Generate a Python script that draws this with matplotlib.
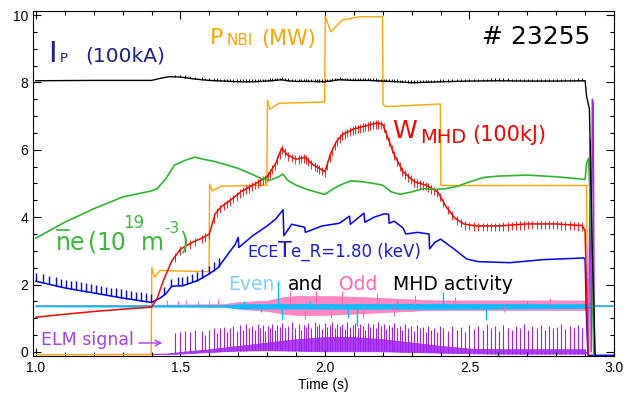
import numpy as np
import matplotlib.pyplot as plt
from matplotlib.lines import Line2D
from matplotlib.ticker import MultipleLocator

plt.rcParams['font.family'] = ['Liberation Sans', 'DejaVu Sans']

# Shot 23255 traces (time in s)

# plasma current Ip (100kA)
IP_T = [1.0, 1.2, 1.40, 1.43, 1.46, 1.50, 1.55, 1.60, 1.65, 1.70, 1.75, 1.80, 1.85, 1.87, 1.90,
        1.95, 2.00, 2.05, 2.10, 2.15, 2.20, 2.25, 2.30, 2.40, 2.50, 2.60, 2.70, 2.80, 2.90, 2.905,
        2.915, 2.925, 2.935]
IP_V = [8.05, 8.06, 8.06, 8.12, 8.17, 8.16, 8.10, 8.06, 8.04, 8.02, 8.02, 8.04, 8.08, 8.05, 8.03,
        8.03, 8.02, 8.08, 8.06, 8.06, 8.04, 8.02, 7.99, 8.02, 8.04, 8.05, 8.04, 8.04, 8.05, 7.6,
        7.2, 3.0, -0.1]
IP_RIPPLE = 0.07   # small bumps on Ip at each ELM

# NBI power (MW)
NBI_T = [1.0, 1.399, 1.401, 1.41, 1.43, 1.599, 1.601, 1.61, 1.64, 1.799, 1.801, 1.81, 1.84,
         1.999, 2.001, 2.02, 2.06, 2.12, 2.199, 2.201, 2.21, 2.399, 2.401, 2.905, 2.91]
NBI_V = [-0.08, -0.08, 2.5, 2.22, 2.42, 2.38, 4.98, 4.78, 4.92, 4.95, 7.47, 7.2, 7.38,
         7.42, 9.97, 9.5, 9.85, 9.95, 9.95, 7.35, 7.28, 7.36, 4.94, 4.94, -0.1]

# line averaged density (1e19 m^-3)
NE_T = [1.0, 1.1, 1.2, 1.3, 1.4, 1.42, 1.45, 1.48, 1.52, 1.55, 1.58, 1.62, 1.66, 1.70, 1.74,
        1.78, 1.81, 1.84, 1.855, 1.87, 1.90, 1.94, 1.98, 2.00, 2.03, 2.06, 2.09, 2.13, 2.17, 2.20,
        2.23, 2.26, 2.30, 2.34, 2.38, 2.42, 2.46, 2.50, 2.55, 2.60, 2.70, 2.80, 2.90, 2.905, 2.912,
        2.92, 2.93]
NE_V = [3.38, 3.85, 4.25, 4.6, 4.78, 4.85, 5.15, 5.55, 5.7, 5.78, 5.72, 5.65, 5.55, 5.45, 5.3,
        5.15, 5.1, 5.2, 5.28, 5.1, 4.95, 4.82, 4.72, 4.68, 4.85, 4.98, 5.08, 5.05, 5.0, 4.95,
        4.75, 4.68, 4.75, 4.85, 4.82, 4.85, 4.92, 5.05, 5.18, 5.22, 5.25, 5.2, 5.12, 5.6, 5.75,
        4.0, -0.1]

# stored energy WMHD (100kJ)
W_T = [1.0, 1.1, 1.2, 1.3, 1.4, 1.42, 1.44, 1.47, 1.50, 1.54, 1.58, 1.60, 1.62, 1.64, 1.68,
       1.71, 1.74, 1.77, 1.80, 1.83, 1.85, 1.87, 1.90, 1.93, 1.96, 1.99, 2.0, 2.02, 2.04, 2.06,
       2.10, 2.15, 2.18, 2.20, 2.22, 2.24, 2.27, 2.31, 2.35, 2.39, 2.42, 2.45, 2.48, 2.52, 2.6,
       2.7, 2.8, 2.89, 2.9, 2.91]
W_V = [1.03, 1.12, 1.2, 1.27, 1.33, 1.6, 2.1, 2.7, 3.05, 3.25, 3.4, 3.5, 4.1, 4.3, 4.55,
       4.76, 4.9, 5.05, 5.2, 5.6, 6.05, 5.85, 5.72, 5.78, 5.55, 5.4, 5.35, 5.9, 6.25, 6.45,
       6.62, 6.73, 6.8, 6.75, 6.3, 5.85, 5.35, 5.05, 4.95, 4.75, 4.3, 3.97, 3.8, 3.74, 3.74,
       3.8, 3.8, 3.75, 3.6, -0.1]
W_ELM_DIP = 0.16   # WMHD drop at each ELM
W_ELM_RISE = 0.1

# ECE Te at R=1.80 (keV)
TE_T = [1.0, 1.1, 1.2, 1.3, 1.4, 1.43, 1.45, 1.47, 1.51, 1.56, 1.60, 1.63, 1.66, 1.69, 1.70,
        1.702, 1.75, 1.80, 1.83, 1.855, 1.858, 1.885, 1.93, 1.932, 1.99, 2.05, 2.085, 2.088, 2.135, 2.138,
        2.17, 2.205, 2.22, 2.222, 2.24, 2.27, 2.28, 2.32, 2.36, 2.362, 2.38, 2.40, 2.446, 2.49, 2.53,
        2.64, 2.755, 2.895, 2.90, 2.905, 2.91, 3.0]
TE_V = [2.1, 1.9, 1.75, 1.6, 1.47, 1.6, 1.73, 1.95, 1.97, 2.12, 2.32, 2.5, 2.85, 3.2, 3.4,
        3.1, 3.45, 3.74, 3.95, 4.22, 3.45, 3.79, 3.7, 3.55, 3.74, 3.82, 4.03, 3.79, 4.12, 3.85,
        4.0, 4.1, 4.09, 3.82, 3.88, 3.68, 3.5, 3.55, 3.5, 3.06, 3.25, 3.35, 3.06, 2.76, 2.68,
        2.65, 2.74, 2.79, 2.75, 1.0, -0.1, -0.1]
# sawtooth peaks on Te
TE_SAW_T = [1.001, 1.024, 1.047, 1.070, 1.087, 1.104, 1.122, 1.139, 1.156, 1.173, 1.190, 1.208,
            1.225, 1.242, 1.259, 1.276, 1.294, 1.311, 1.328, 1.345, 1.362, 1.380, 1.397, 1.444,
            1.467, 1.490, 1.507, 1.524, 1.541, 1.558, 1.576, 1.599, 1.616, 1.633]
TE_SAW_UP = 0.25

# even MHD (n even) band
EVEN_T = [1.0, 1.65, 1.70, 2.40, 2.9, 2.935, 3.0]
EVEN_V = [1.36, 1.36, 1.35, 1.35, 1.36, 1.36, 1.36]
EVEN_LO = [1.35, 1.34, 1.29, 1.28, 1.30, 1.36, 1.36]
EVEN_HI = [1.37, 1.38, 1.42, 1.43, 1.42, 1.36, 1.36]
EVEN_SPK_T = [1.72, 1.78, 1.836, 1.853, 1.95, 2.08, 2.11, 2.25, 2.41, 2.556, 2.70, 2.905, 2.907]
EVEN_SPK_V = [1.52, 1.2, 2.1, 0.94, 1.52, 1.0, 0.76, 1.55, 1.77, 0.94, 1.5, 2.2, 0.85]

# odd MHD band (dense core + largest excursions)
ODD_T = [1.0, 1.4, 1.65, 1.7, 1.8, 1.85, 1.9, 2.0, 2.1, 2.2, 2.3, 2.35, 2.4, 2.9, 2.935, 3.0]
ODD_HI = [1.39, 1.40, 1.42, 1.48, 1.52, 1.62, 1.66, 1.66, 1.64, 1.6, 1.56, 1.54, 1.53, 1.53, 1.38, 1.38]
ODD_LO = [1.38, 1.37, 1.35, 1.28, 1.22, 1.14, 1.10, 1.10, 1.14, 1.18, 1.22, 1.25, 1.25, 1.25, 1.38, 1.38]
ODD_SPK_T = [1.455, 1.49, 1.52, 1.56, 1.60, 1.63, 1.88, 1.93, 1.97, 2.02, 2.06, 2.13, 2.18, 2.24,
             2.31, 2.45, 2.62, 2.78, 2.91]
ODD_SPK_V = [1.55, 1.52, 1.55, 1.5, 1.55, 1.58, 1.8, 0.98, 1.82, 1.0, 1.8, 1.02, 1.76, 1.08,
             1.68, 1.62, 1.2, 1.6, 1.95]

# ELM signal: background band + individual ELM spikes
ELM_BT = [1.0, 1.45, 1.5, 1.6, 1.7, 1.8, 1.9, 2.0, 2.1, 2.2, 2.3, 2.4, 2.5, 2.6, 2.9]
ELM_LO = [-0.06, -0.06, -0.05, 0.0, 0.04, 0.05, 0.04, 0.02, 0.02, 0.02, 0.0, -0.02, -0.04, -0.05, -0.05]
ELM_HI = [-0.06, -0.05, 0.0, 0.08, 0.18, 0.28, 0.38, 0.44, 0.44, 0.38, 0.28, 0.18, 0.1, 0.08, 0.08]
ELM_T = [
    1.482, 1.499, 1.516, 1.534, 1.551, 1.575, 1.585, 1.600, 1.616, 1.627,
    1.637, 1.650, 1.660, 1.672, 1.683, 1.695, 1.706, 1.716, 1.728, 1.737,
    1.748, 1.757, 1.768, 1.775, 1.786, 1.792, 1.802, 1.809, 1.818, 1.826,
    1.835, 1.843, 1.852, 1.861, 1.872, 1.885, 1.895, 1.909, 1.918, 1.926,
    1.935, 1.943, 1.953, 1.964, 1.972, 1.981, 1.990, 2.000, 2.008, 2.016,
    2.025, 2.034, 2.043, 2.052, 2.060, 2.068, 2.078, 2.088, 2.096, 2.105,
    2.114, 2.122, 2.131, 2.140, 2.148, 2.157, 2.166, 2.175, 2.184, 2.193,
    2.203, 2.212, 2.221, 2.231, 2.240, 2.250, 2.259, 2.268, 2.278, 2.288,
    2.298, 2.308, 2.318, 2.328, 2.338, 2.348, 2.358, 2.368, 2.378, 2.388,
    2.398, 2.410, 2.425, 2.440, 2.456, 2.470, 2.486, 2.500, 2.516, 2.531,
    2.546, 2.560, 2.575, 2.590, 2.602, 2.617, 2.632, 2.646, 2.660, 2.675,
    2.688, 2.703, 2.717, 2.732, 2.746, 2.760, 2.775, 2.790, 2.803, 2.818,
    2.832, 2.847, 2.860, 2.875, 2.888]
ELM_TOP = [
    0.55, 0.60, 0.62, 0.60, 0.64, 0.62, 0.50, 0.66, 0.70, 0.56,
    0.72, 0.74, 0.60, 0.72, 0.78, 0.62, 0.80, 0.66, 0.82, 0.70,
    0.78, 0.64, 0.84, 0.72, 0.80, 0.62, 0.76, 0.70, 0.84, 0.66,
    0.80, 0.74, 0.86, 0.70, 0.78, 0.88, 0.72, 0.82, 0.66, 0.80,
    0.74, 0.86, 0.70, 0.90, 0.76, 0.82, 0.68, 0.86, 0.74, 0.80,
    0.88, 0.70, 0.84, 0.76, 0.82, 0.68, 0.88, 0.74, 0.80, 0.86,
    0.70, 0.84, 0.78, 0.66, 0.86, 0.74, 0.82, 0.70, 0.88, 0.76,
    0.84, 0.68, 0.80, 0.74, 0.86, 0.70, 0.78, 0.64, 0.82, 0.72,
    0.76, 0.62, 0.80, 0.70, 0.74, 0.60, 0.78, 0.66, 0.72, 0.60,
    0.76, 0.70, 0.62, 0.78, 0.66, 0.74, 0.58, 0.80, 0.68, 0.76,
    0.64, 0.82, 0.70, 0.76, 0.62, 0.80, 0.72, 0.66, 0.78, 0.70,
    0.82, 0.64, 0.76, 0.72, 0.80, 0.66, 0.78, 0.70, 0.74, 0.82,
    0.68, 0.76, 0.72, 0.80, 0.70]
# disruption burst on the ELM channel
ELM_END_T = [2.9, 2.912, 2.918, 2.921, 2.925, 2.928, 2.932, 3.0]
ELM_END_V = [-0.05, 0.0, 6.3, 0.0, 7.5, 7.4, -0.12, -0.12]

# colours
BLACK = 'black'
ORANGE = '#ffa500'
GREEN = '#30b530'
RED = '#ff0000'
BLUE = '#0000ff'
CYAN = '#00bfff'
PINK = '#ff69b4'
PURPLE = '#a020f0'

W, H = 634, 397
fig = plt.figure(figsize=(W / 100, H / 100), dpi=100)
ax = fig.add_axes([33 / W, 1 - 356 / H, (614 - 33) / W, (356 - 11) / H])

# ELM channel
ax.fill_between(ELM_BT, ELM_LO, ELM_HI, color=PURPLE, lw=0.6, alpha=0.85)
ax.vlines(ELM_T, np.interp(ELM_T, ELM_BT, ELM_LO), ELM_TOP, color=PURPLE, lw=0.8)
ax.plot(ELM_END_T, ELM_END_V, color=PURPLE, lw=1)

ax.plot(NBI_T, NBI_V, color=ORANGE, lw=1)

# MHD activity
ax.fill_between(ODD_T, ODD_LO, ODD_HI, color=PINK, lw=0.5, alpha=0.8)
ax.vlines(ODD_SPK_T, 1.38, ODD_SPK_V, color=PINK, lw=0.8)
ax.fill_between(EVEN_T, EVEN_LO, EVEN_HI, color=CYAN, lw=0.5, alpha=0.9)
ax.plot(EVEN_T, EVEN_V, color=CYAN, lw=1)
ax.vlines(EVEN_SPK_T, 1.36, EVEN_SPK_V, color=CYAN, lw=1)

# Te with sawteeth
ax.plot(TE_T, TE_V, color=BLUE, lw=1.1)
saw_base = np.interp(TE_SAW_T, TE_T, TE_V)
ax.vlines(TE_SAW_T, saw_base, saw_base + TE_SAW_UP, color=BLUE, lw=1)

# WMHD with ELM dips
ax.plot(W_T, W_V, color=RED, lw=1.1)
w_elm = np.interp(ELM_T, W_T, W_V)
ax.vlines(ELM_T, w_elm - W_ELM_DIP, w_elm + W_ELM_RISE, color=RED, lw=0.6)

ax.plot(NE_T, NE_V, color=GREEN, lw=1.2)

ax.plot(IP_T, IP_V, color=BLACK, lw=1)
ip_elm = np.interp(ELM_T, IP_T, IP_V)
ax.vlines(ELM_T, ip_elm, ip_elm + IP_RIPPLE, color=BLACK, lw=0.7)

ax.set_xlim(0.99, 3.0)
ax.set_ylim(-0.12, 10.12)
ax.xaxis.set_major_locator(MultipleLocator(0.5))
ax.xaxis.set_minor_locator(MultipleLocator(0.1))
ax.yaxis.set_major_locator(MultipleLocator(2))
ax.yaxis.set_minor_locator(MultipleLocator(0.5))
ax.tick_params(which='both', direction='in', top=True, right=True, labelsize=10, width=0.8)
ax.tick_params(which='major', length=6)
ax.tick_params(which='minor', length=3)
ax.set_xlabel('Time (s)', fontsize=10, labelpad=2)


def ftxt(px, py, s, size, color):
    # label placed in figure pixels (baseline)
    fig.text(px / W, 1 - py / H, s, fontsize=size, color=color,
             ha='left', va='baseline', family='DejaVu Sans')


NAVY = '#1e1e8c'
ftxt(48, 62, 'I', 21, NAVY)
ftxt(60, 62, 'P', 9.5, NAVY)
ftxt(85, 62, '(100kA)', 14.5, NAVY)

ftxt(210, 44, 'P', 16, ORANGE)
ftxt(227, 45, 'NBI', 11, ORANGE)
ftxt(261, 45, '(MW)', 15, ORANGE)

ftxt(482, 44, '# 23255', 18, BLACK)

ftxt(392, 138, 'W', 18, RED)
ftxt(420, 143, 'MHD', 14, RED)
ftxt(472, 141, '(100kJ)', 15, RED)

NE_C = '#3cb83c'
ftxt(56, 250, 'n', 17, NE_C)
ftxt(70, 250, 'e', 17, NE_C)
ftxt(88, 250, '(', 17, NE_C)
ftxt(96, 250, '10', 17, NE_C)
ftxt(123, 228, '19', 12, NE_C)
ftxt(141, 250, 'm', 17, NE_C)
ftxt(164, 233, '-3', 11, NE_C)
ftxt(179, 250, ')', 17, NE_C)
fig.add_artist(Line2D([57 / W, 69 / W], [1 - 230 / H, 1 - 230 / H], color=NE_C, lw=1.2))

TE_C = '#1a1ae0'
ftxt(247, 257, 'ECE', 11.5, TE_C)
ftxt(278, 257, 'T', 16, TE_C)
ftxt(291, 257, 'e_R=1.80 (keV)', 12, TE_C)

ftxt(228, 290, 'Even', 13.5, '#87cefa')
ftxt(288, 290, 'and', 13.5, BLACK)
ftxt(339, 290, 'Odd', 13.5, PINK)
ftxt(393, 290, 'MHD activity', 13.5, BLACK)

ELM_C = '#a040f0'
ftxt(41, 345, 'ELM signal', 12.5, ELM_C)
ax.annotate('', xy=(165 / W, 1 - 343 / H), xytext=(136 / W, 1 - 343 / H),
            xycoords='figure fraction', textcoords='figure fraction',
            arrowprops=dict(arrowstyle='->', color=ELM_C, lw=1))

fig.savefig('out.png', dpi=100)
